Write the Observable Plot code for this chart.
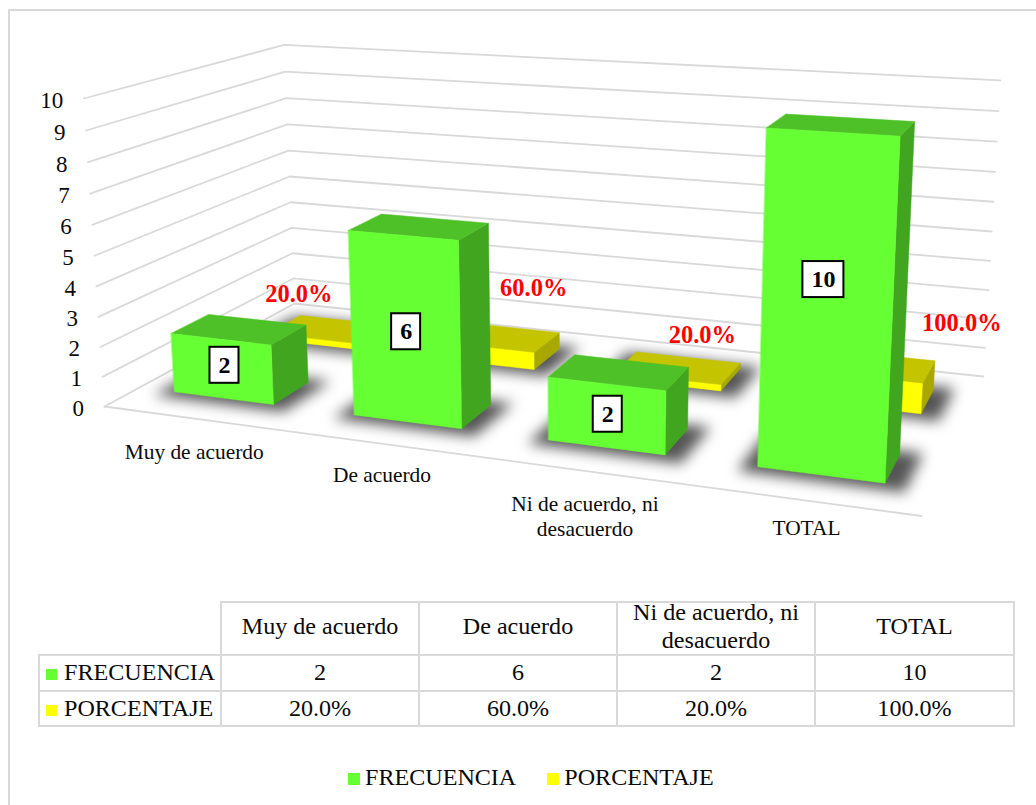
<!DOCTYPE html>
<html>
<head>
<meta charset="utf-8">
<script src="https://cdn.jsdelivr.net/npm/d3@7"></script>
<script src="https://cdn.jsdelivr.net/npm/@observablehq/plot@0.6"></script>
<style>
html,body{margin:0;padding:0;background:#fff;width:1036px;height:805px;overflow:hidden;font-family:"Liberation Serif",serif;color:#0a0a0a}
#frame{position:absolute;left:8px;top:9px;width:1040px;height:820px;border:2px solid #d9d9d9;box-sizing:border-box}
#chart{position:absolute;left:0;top:0}
table{position:absolute;left:38px;top:601px;border-collapse:collapse;table-layout:fixed;width:975px;font-size:24.1px;text-align:center}
td{border:2px solid #d9d9d9;padding:0;height:34px}
td>div{line-height:28px;margin:-2px 0 0 0;height:28px}
tr.hd td{height:51px}
tr.hd td>div{line-height:27.5px;margin:-4px 0 0 0;height:auto}
tr.last td{height:33px}
td.blank{border-top:none;border-left:none}
td.s{text-align:left;white-space:nowrap;padding-left:6px}
.sw{display:inline-block;width:11px;height:11px;margin-right:7px}
#legend{position:absolute;left:348px;top:762px;font-size:24.1px;line-height:30px;white-space:nowrap}
#legend .sw{width:12px;height:12px;margin-right:5px}
#legend span.item{margin-right:31px}
</style>
</head>
<body>
<div id="frame"></div>
<div id="chart"></div>
<div id="tbl"></div>
<div id="legend"></div>
<script>
// ---- data ----
const categories = ["Muy de acuerdo", "De acuerdo", "Ni de acuerdo, ni desacuerdo", "TOTAL"];
const frecuencia = [2, 6, 2, 10];
const porcentaje = [0.2, 0.6, 0.2, 1.0];
const yTicks = [0, 1, 2, 3, 4, 5, 6, 7, 8, 9, 10];
const seriesNames = ["FRECUENCIA", "PORCENTAJE"];

// ---- style ----
const GRID = "#d9d9d9";
const GREEN = {front: "#66ff33", top: "#4fc128", side: "#41a51f"};
const YELLOW = {front: "#ffff00", top: "#c4c400", side: "#a8a800"};
const SVGH = 590;

// ---- 3D view: the perspective of the reference chart's box ----
const view = {o: [104, 406], s: [921, 515.5], d: [294, 303], v: [83.3, 98], sd: [983, 376], dv: [283.7, 43.3]};
function det(a, b, c) {
  return a[0]*(b[1]*c[2]-b[2]*c[1]) - a[1]*(b[0]*c[2]-b[2]*c[0]) + a[2]*(b[0]*c[1]-b[1]*c[0]);
}
const h = p => [p[0], p[1], 1];
const O = h(view.o), S = h(view.s), D = h(view.d), V = h(view.v), SD = h(view.sd);
const T = [0, 1, 2];
const rows = T.map(i => [S[i], D[i], -SD[i]]);
const dd = det(rows[0], rows[1], rows[2]);
const repl = c => rows.map((r, i) => r.map((x, j) => j === c ? O[i] : x));
const ws = det(...repl(0)) / dd, wd = det(...repl(1)) / dd;
const wv = ((wd - 1) * view.dv[0] - wd * D[0] + O[0]) / (V[0] - view.dv[0]);
function project(s, d, v) {
  const t = v / 10;
  const H = T.map(i => O[i] + s * (ws * S[i] - O[i]) + d * (wd * D[i] - O[i]) + t * (wv * V[i] - O[i]));
  return [H[0] / H[2], H[1] / H[2]];
}

// ---- geometry helpers ----
const halfW = 0.071;
const slots = [[0.16, 0.345], [0.65, 0.845]];
const barNudge = [-0.003, 0, 0.002, 0.002];
const sCenter = i => (i + 0.5) / categories.length + barNudge[i];
function quad(rows, id, color, pts) {
  pts.forEach(p => { const [x, y] = project(...p); rows.push({x, y, id, color}); });
}
function barFaces(values, slot, pal, tag) {
  const rows = [];
  const [d0, d1] = slots[slot];
  values.forEach((val, i) => {
    const s0 = sCenter(i) - halfW, s1 = sCenter(i) + halfW;
    quad(rows, `${tag}${i}r`, pal.side, [[s1,d0,0],[s1,d1,0],[s1,d1,val],[s1,d0,val]]);
    quad(rows, `${tag}${i}t`, pal.top, [[s0,d0,val],[s1,d0,val],[s1,d1,val],[s0,d1,val]]);
    quad(rows, `${tag}${i}f`, pal.front, [[s0,d0,0],[s1,d0,0],[s1,d0,val],[s0,d0,val]]);
  });
  return rows;
}
function shadow(values, slot, tag) {
  const rows = [];
  const [d0, d1] = slots[slot];
  values.forEach((val, i) => {
    const s0 = sCenter(i) - halfW - 0.018, s1 = sCenter(i) + halfW + 0.024;
    quad(rows, `${tag}${i}`, "#555", [[s0,d0-0.04,0],[s1,d0-0.04,0],[s1,d1+0.03,0],[s0,d1+0.03,0]]);
  });
  return rows;
}
const gridRows = [];
yTicks.forEach(v => {
  [[0,0,v],[0,1,v],[1,1,v]].forEach(p => { const [x, y] = project(...p); gridRows.push({x, y, id: v}); });
});
[[0,0,0],[1,0,0]].forEach(p => { const [x, y] = project(...p); gridRows.push({x, y, id: "front"}); });

const tickRows = yTicks.map(v => { const [x, y] = project(0, 0, v); return {x: x - 20.5, y: y + 2, label: String(v)}; });

const catOffset = [[4, 33], [3, 31], [1.5, 44.5], [1.5, 26.5]];
const catRows = categories.map((c, i) => {
  const [x, y] = project(sCenter(i), 0, 0);
  return {x: x + catOffset[i][0], y: y + catOffset[i][1], label: c.replace(", ni ", ", ni\n")};
});

const boxOffset = [[2.5, -3.5], [1, 2], [1.5, -1.5], [-3, -28]];
const boxRows = frecuencia.map((val, i) => {
  const [x, y] = project(sCenter(i), slots[0][0], val / 2);
  const hw = String(val).length > 1 ? 20.5 : 14.5;
  return {x: x + boxOffset[i][0], y: y + boxOffset[i][1], hw, label: String(val)};
});

const pctOffset = [[-31, -35], [36, -49], [24.5, -33], [90.5, -42]];
const pctRows = porcentaje.map((val, i) => {
  const [x, y] = project(sCenter(i), 0.75, val);
  return {x: x + pctOffset[i][0], y: y + pctOffset[i][1], label: d3.format(".1%")(val)};
});

const backShadow = {x: "x", y: "y", z: "id", fill: "color", curve: "linear-closed", imageFilter: "blur(7px)"};
const face = {x: "x", y: "y", z: "id", fill: "color", stroke: "color", strokeWidth: 0.5, curve: "linear-closed"};

const chart = Plot.plot({
  width: 1036, height: SVGH,
  margin: 0, marginTop: 0, marginLeft: 0, marginRight: 0, marginBottom: 0,
  x: {domain: [0, 1036], range: [0, 1036], axis: null},
  y: {domain: [0, SVGH], range: [0, SVGH], axis: null},
  style: {background: "transparent", fontFamily: "'Liberation Serif', serif"},
  marks: [
    Plot.line(gridRows, {x: "x", y: "y", z: "id", stroke: GRID, strokeWidth: 1.8}),
    Plot.line(shadow(porcentaje, 1, "sb"), backShadow),
    Plot.line(barFaces(porcentaje, 1, YELLOW, "b"), face),
    Plot.line(shadow(frecuencia, 0, "sf"), backShadow),
    Plot.line(barFaces(frecuencia, 0, GREEN, "f"), face),
    Plot.text(tickRows, {x: "x", y: "y", text: "label", textAnchor: "end", fontSize: 23, fill: "#0a0a0a"}),
    Plot.text(catRows, {x: "x", y: "y", text: "label", fontSize: 21.4, lineHeight: 1.17, fill: "#0a0a0a"}),
    Plot.rect(boxRows, {x1: d => d.x - d.hw, x2: d => d.x + d.hw, y1: d => d.y - 18, y2: d => d.y + 18, fill: "white", stroke: "black", strokeWidth: 2}),
    Plot.text(boxRows, {x: "x", y: "y", text: "label", fontSize: 24, fontWeight: "bold", fill: "black"}),
    Plot.text(pctRows, {x: "x", y: "y", text: "label", fontSize: 24.5, fontWeight: "bold", fill: "#ff0000"})
  ]
});
document.getElementById("chart").append(chart);

// ---- data table ----
const sw = c => `<span class="sw" style="background:${c}"></span>`;
const pct = d3.format(".1%");
const colW = [182, 198, 198, 198, 199];
const cell = x => `<td><div>${x}</div></td>`;
document.getElementById("tbl").innerHTML = `<table>
<colgroup>${colW.map(w => `<col style="width:${w}px">`).join("")}</colgroup>
<tr class="hd"><td class="blank"></td>${categories.map(c => cell(c.replace(", ni ", ", ni<br>"))).join("")}</tr>
<tr><td class="s"><div>${sw(GREEN.front)}${seriesNames[0]}</div></td>${frecuencia.map(v => cell(v)).join("")}</tr>
<tr class="last"><td class="s"><div>${sw(YELLOW.front)}${seriesNames[1]}</div></td>${porcentaje.map(v => cell(pct(v))).join("")}</tr>
</table>`;
document.getElementById("legend").innerHTML =
  `<span class="item">${sw(GREEN.front)}${seriesNames[0]}</span><span class="item">${sw(YELLOW.front)}${seriesNames[1]}</span>`;
</script>
</body>
</html>
